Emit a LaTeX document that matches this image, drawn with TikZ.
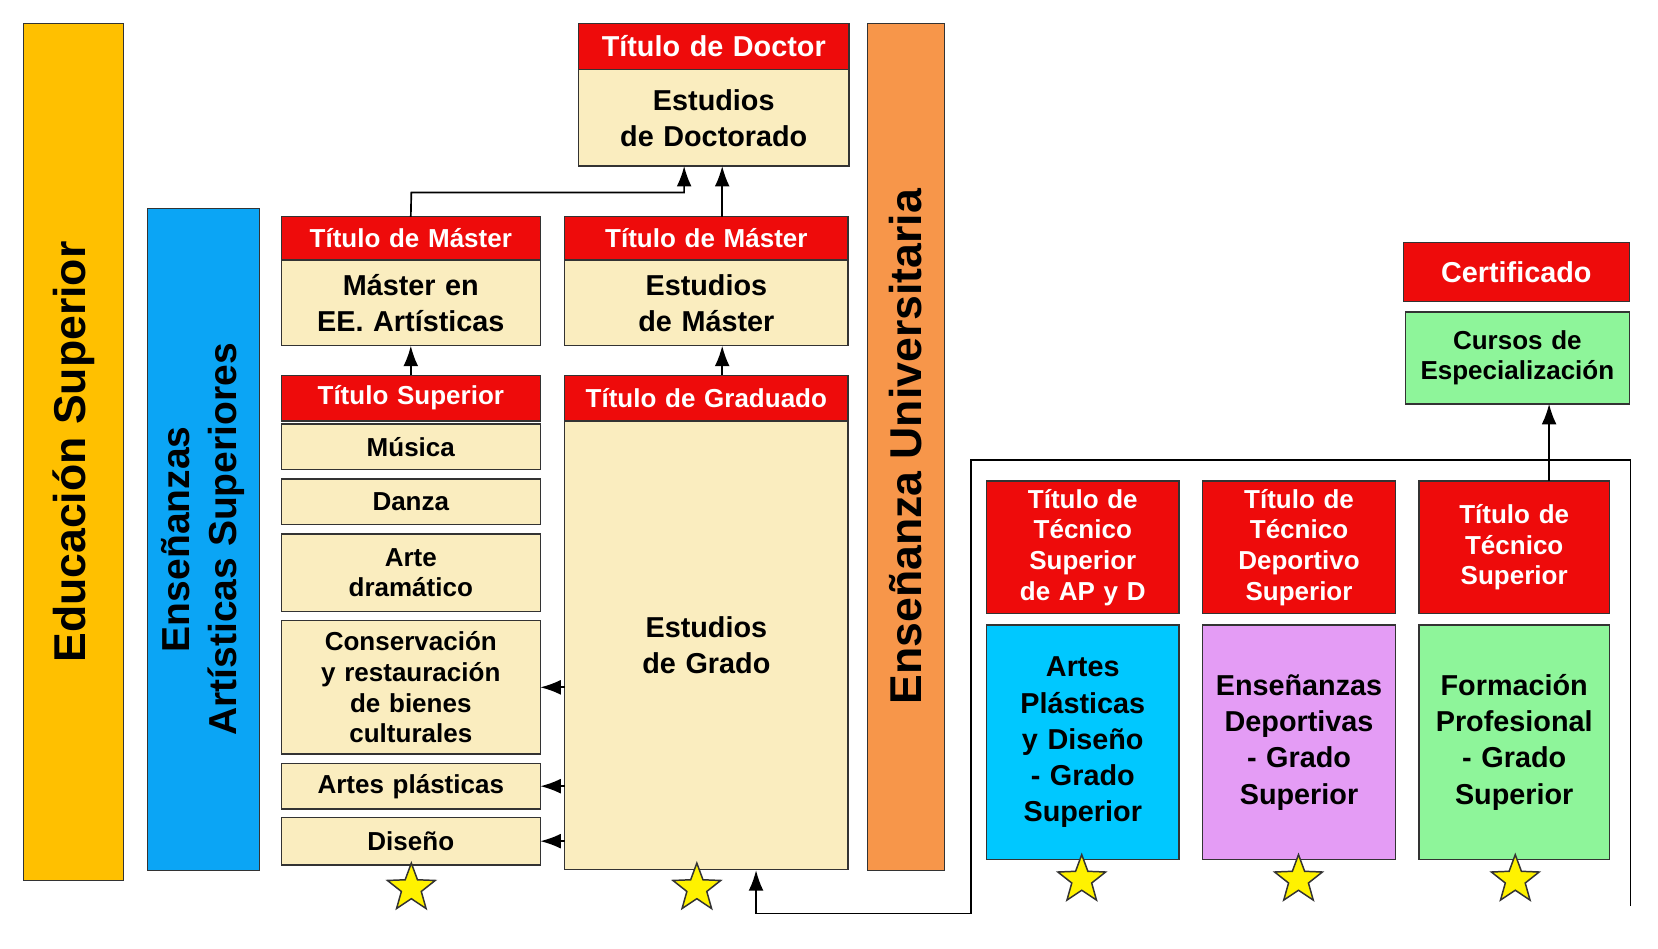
\documentclass[tikz,border=0pt]{standalone}
\usepackage{fontspec}
\setmainfont{Liberation Sans}
\usetikzlibrary{shapes.geometric,arrows.meta}
\definecolor{rd}{HTML}{EE0B0B}
\definecolor{bg}{HTML}{FAEDBF}
\definecolor{org}{HTML}{FFC000}
\definecolor{org2}{HTML}{F7964A}
\definecolor{blu}{HTML}{0BA5F5}
\definecolor{cya}{HTML}{00C8FF}
\definecolor{vio}{HTML}{E49CF5}
\definecolor{grn}{HTML}{8EF59A}
\newcommand\pbox[7]{\node[#6,minimum width={(#4-#2)*0.02cm},minimum height={(#5-#3)*0.02cm},text width={(#4-#2)*0.02cm-6pt}] (#1) at ({(#2+#4)/2},{(#3+#5)/2}) {#7};}
\begin{document}
\begin{tikzpicture}[x=0.02cm,y=-0.02cm,
  b/.style={draw=black!80,line width=0.7pt,inner sep=0,outer sep=0,align=center,font=\bfseries\fontsize{14}{16.5}\selectfont},
  red/.style={b,fill=rd,text=white},
  beige/.style={b,fill=bg},
  big/.style={b,font=\bfseries\fontsize{15.5}{19.5}\selectfont},
  arr/.style={-{Latex[length=11pt,width=8pt]},line width=0.9pt},
  st/.style={star,star points=5,star point ratio=2.4,fill=yellow,draw=black!80,line width=0.8pt,minimum size=0.95cm,inner sep=0}]
\useasboundingbox[fill=white] (0,0) rectangle (1568,897);
\node[draw=black!80,fill=org,minimum width=95*0.02cm,minimum height=811*0.02cm,inner sep=0] (es) at (69.5,427.5) {};
\node[rotate=90,font=\bfseries\fontsize{24}{26}\selectfont] at (es.center) {Educación Superior};
\node[draw=black!80,fill=blu,minimum width=106*0.02cm,minimum height=626*0.02cm,inner sep=0] (eas) at (192,510) {};
\node[rotate=90,align=center,font=\bfseries\fontsize{21}{25}\selectfont] at (eas.center) {Enseñanzas\\Artísticas Superiores};
\node[draw=black!80,fill=org2,minimum width=73*0.02cm,minimum height=801*0.02cm,inner sep=0] (eu) at (856.5,422.5) {};
\node[rotate=90,font=\bfseries\fontsize{24}{26}\selectfont] at (eu.center) {Enseñanza Universitaria};
\pbox{tdoc}{547}{22}{803}{66}{red,big}{Título de Doctor}
\pbox{doc}{547}{66}{803}{157}{beige,big}{Estudios\\de Doctorado}
\pbox{tma}{266}{205}{511}{246}{red}{Título de Máster}
\pbox{mea}{266}{246}{511}{327}{beige,big}{Máster en\\EE. Artísticas}
\pbox{tmb}{534}{205}{802}{246}{red}{Título de Máster}
\pbox{mes}{534}{246}{802}{327}{beige,big}{Estudios\\de Máster}
\pbox{tsup}{266}{355}{511}{398}{red}{Título Superior}
\pbox{tgr}{534}{355}{802}{398}{red}{Título de Graduado}
\pbox{gra}{534}{398}{802}{822}{beige,big}{Estudios\\de Grado\\[2.2cm]}
\pbox{mus}{266}{401}{511}{444}{beige}{Música}
\pbox{dan}{266}{453}{511}{496}{beige}{Danza}
\pbox{arte}{266}{505}{511}{578}{beige}{Arte\\dramático}
\pbox{cons}{266}{587}{511}{713}{beige}{Conservación\\y restauración\\de bienes\\culturales}
\pbox{apl}{266}{722}{511}{765}{beige}{Artes plásticas}
\pbox{dis}{266}{773}{511}{818}{beige}{Diseño}
\pbox{r1}{933}{455}{1115}{580}{red}{Título de\\Técnico\\Superior\\de AP y D}
\pbox{r2}{1137}{455}{1320}{580}{red}{Título de\\Técnico\\Deportivo\\Superior}
\pbox{r3}{1342}{455}{1522}{580}{red}{Título de\\Técnico\\Superior}
\pbox{c1}{933}{591}{1115}{813}{b,fill=cya,big}{Artes\\Plásticas\\y Diseño\\- Grado\\Superior}
\pbox{c2}{1137}{591}{1320}{813}{b,fill=vio,big}{Enseñanzas\\Deportivas\\- Grado\\Superior}
\pbox{c3}{1342}{591}{1522}{813}{b,fill=grn,big}{Formación\\Profesional\\- Grado\\Superior}
\pbox{cert}{1327}{229}{1541}{285}{red,big}{Certificado}
\pbox{cur}{1329}{295}{1541}{382}{b,fill=grn}{Cursos de\\Especialización}
\node[st] (s1) at (389,840) {};
\node[st] (s2) at (659,840) {};
\node[st] (s3) at (1023,832) {};
\node[st] (s4) at (1228,832) {};
\node[st] (s5) at (1433,832) {};
\draw[arr] (tsup.north) -- (mea.south);
\draw[arr] (tgr.north -| 683,0) -- (683,327);
\draw[arr] (tmb.north -| 683,0) -- (683,157);
\coordinate (j) at (647,157);
\draw[arr] (tma.north) -- (389,182) -| (j);
\draw[arr] (gra.west |- cons) -- (cons.east);
\draw[arr] (gra.west |- apl) -- (apl.east);
\draw[arr] (gra.west |- dis) -- (dis.east);
\draw[arr] (r3.north -| 1465,0) -- (cur.south -| 1465,0);
\coordinate (e1) at (1542,857);
\coordinate (g1) at (715,823);
\draw[arr] (e1) -- (1542,435) -- (918,435) -- (918,864) -- (715,864) -- (g1);
\end{tikzpicture}
\end{document}
